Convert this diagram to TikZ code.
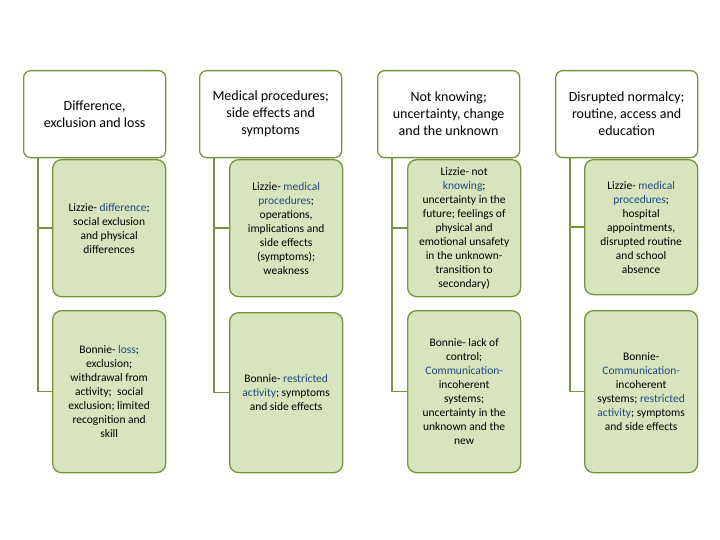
\documentclass[tikz,border=0pt]{standalone}
\usepackage{fontspec}
\setmainfont{Carlito}
\definecolor{bd}{HTML}{77933C}
\definecolor{fl}{HTML}{D7E4BD}
\definecolor{kw}{HTML}{1F497D}
\newcommand{\kw}[1]{\textcolor{kw}{#1}}
\begin{document}
\begin{tikzpicture}[x=1pt,y=-1pt,
  hdr/.style={draw=bd,line width=1.3pt,rounded corners=7pt,fill=white,minimum width=142pt,minimum height=87pt,align=center,font=\fontsize{14}{17}\selectfont,anchor=north west,inner sep=2pt},
  kid/.style={draw=bd,line width=1.3pt,rounded corners=9pt,fill=fl,minimum width=113pt,align=center,font=\fontsize{11.5}{14}\selectfont,anchor=north west,inner sep=2pt},
  conn/.style={draw=bd,line width=1.3pt}]
\useasboundingbox (0,0) rectangle (720,540);
% column 1
\node[hdr] (h1) at (23,70) {Difference,\\exclusion and loss};
\node[kid,minimum height=137pt] (a1) at (52,159) {Lizzie- \kw{difference};\\social exclusion\\and physical\\differences};
\node[kid,minimum height=162pt] (b1) at (52,310) {Bonnie- \kw{loss};\\exclusion;\\withdrawal from\\activity;\ \ social\\exclusion; limited\\recognition and\\skill};
% column 2
\node[hdr] (h2) at (199,70) {Medical procedures;\\side effects and\\symptoms};
\node[kid,minimum height=137pt] (a2) at (229,159) {Lizzie- \kw{medical}\\\kw{procedures};\\operations,\\implications and\\side effects\\(symptoms);\\weakness};
\node[kid,minimum height=160pt] (b2) at (229,312) {Bonnie- \kw{restricted}\\\kw{activity}; symptoms\\and side effects};
% column 3
\node[hdr] (h3) at (377,70) {Not knowing;\\uncertainty, change\\and the unknown};
\node[kid,minimum height=137pt] (a3) at (407,159) {Lizzie- not\\\kw{knowing};\\uncertainty in the\\future; feelings of\\physical and\\emotional unsafety\\in the unknown-\\transition to\\secondary)};
\node[kid,minimum height=162pt] (b3) at (407,310) {Bonnie- lack of\\control;\\\kw{Communication-}\\incoherent\\systems;\\uncertainty in the\\unknown and the\\new};
% column 4
\node[hdr] (h4) at (555,70) {Disrupted normalcy;\\routine, access and\\education};
\node[kid,minimum height=135pt] (a4) at (584,159) {Lizzie- \kw{medical}\\\kw{procedures};\\hospital\\appointments,\\disrupted routine\\and school\\absence};
\node[kid,minimum height=162pt] (b4) at (584,310) {Bonnie-\\\kw{Communication-}\\incoherent\\systems; \kw{restricted}\\\kw{activity}; symptoms\\and side effects};
% connectors
\foreach \i in {1,2,3,4}{
  \draw[conn] ([xshift=15pt]h\i.south west) |- (b\i.west);
  \draw[conn] ([xshift=15pt]h\i.south west) |- (a\i.west);
}
\end{tikzpicture}
\end{document}
